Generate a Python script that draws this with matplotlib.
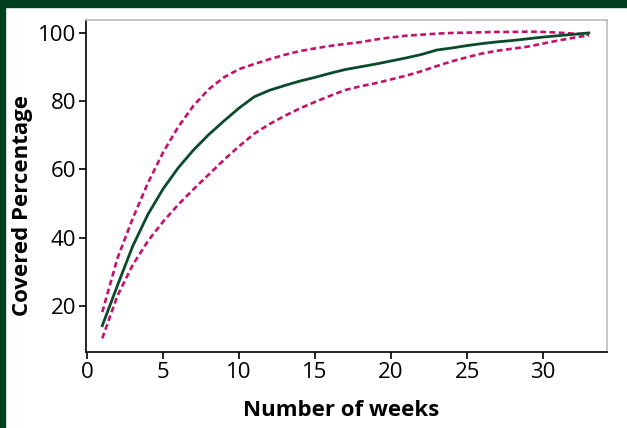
import matplotlib
matplotlib.use("Agg")
import matplotlib.pyplot as plt
from matplotlib.patches import Rectangle

# weeks and covered percentage (mean with upper/lower bounds)
weeks = list(range(1, 34))
mean_pct = [14.2, 26.0, 37.5, 46.8, 54.3, 60.5, 65.7, 70.2, 74.2, 78.0, 81.3,
            83.2, 84.6, 85.9, 87.0, 88.2, 89.3, 90.1, 90.9, 91.8, 92.7, 93.7,
            95.0, 95.6, 96.3, 96.9, 97.4, 97.8, 98.3, 98.8, 99.2, 99.6, 100.0]
upper_pct = [18.2, 34.0, 45.6, 56.0, 65.0, 72.5, 78.7, 83.5, 87.0, 89.4, 90.9,
             92.3, 93.6, 94.7, 95.5, 96.2, 96.8, 97.3, 98.1, 98.7, 99.2, 99.5,
             99.8, 100.0, 100.1, 100.2, 100.3, 100.3, 100.4, 100.3, 100.1, 99.8, 99.5]
lower_pct = [10.5, 23.0, 32.0, 39.0, 44.7, 49.7, 54.2, 58.5, 62.8, 66.8, 70.5,
             73.3, 75.7, 77.9, 79.8, 81.6, 83.3, 84.4, 85.3, 86.4, 87.5, 88.8,
             90.3, 91.7, 92.9, 94.0, 94.8, 95.4, 96.0, 96.9, 97.8, 98.6, 99.3]

green = '#0b4a2a'
magenta = '#c2126e'

plt.rcParams['font.family'] = ['Open Sans', 'DejaVu Sans']

fig = plt.figure(figsize=(6.27, 4.28), dpi=100)
# frame strips on top and left
fig.patches.append(Rectangle((0, 1 - 7 / 428), 1, 7 / 428, transform=fig.transFigure,
                             color='#00401e', zorder=0))
fig.patches.append(Rectangle((0, 0), 5 / 627, 1, transform=fig.transFigure,
                             color='#00401e', zorder=0))

ax = fig.add_axes([86 / 627, 1 - 352 / 428, (607 - 86) / 627, (352 - 20) / 428])

dash = (0, (2.2, 1.3))
ax.plot(weeks, upper_pct, color=magenta, lw=1.9, ls=dash, dash_joinstyle='round')
ax.plot(weeks, lower_pct, color=magenta, lw=1.9, ls=dash, dash_joinstyle='round')
ax.plot(weeks, mean_pct, color=green, lw=2.0, solid_joinstyle='round')

ax.set_xlim(-0.07, 34.2)
ax.set_ylim(6.5, 103.8)
ax.set_xticks([0, 5, 10, 15, 20, 25, 30])
ax.set_yticks([20, 40, 60, 80, 100])

for s in ['top', 'right']:
    ax.spines[s].set_color('#bbbbbb')
    ax.spines[s].set_linewidth(1.2)
for s in ['left', 'bottom']:
    ax.spines[s].set_color('black')
    ax.spines[s].set_linewidth(1.2)

ax.tick_params(direction='out', length=5, width=1.2, labelsize=16, pad=2)

ax.set_xlabel('Number of weeks', fontsize=16, fontweight='bold')
ax.set_ylabel('Covered Percentage', fontsize=16, fontweight='bold')
ax.xaxis.set_label_coords(0.49, -0.145)
ax.yaxis.set_label_coords(-0.102, 0.44)

fig.savefig('out.png', dpi=100)
